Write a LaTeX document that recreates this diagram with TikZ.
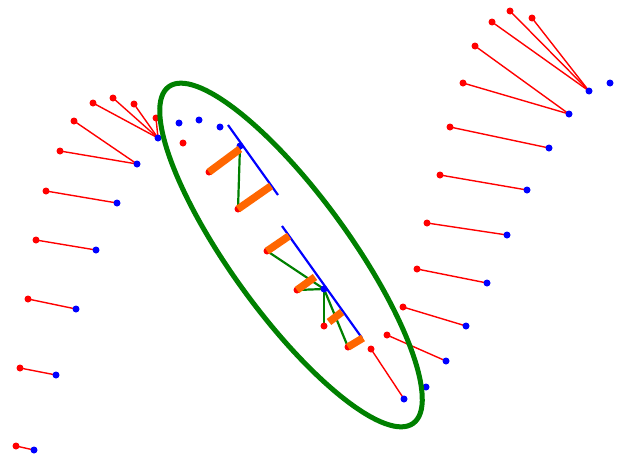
\documentclass[tikz,border=0pt]{standalone}
\begin{document}
\begin{tikzpicture}[x=1pt,y=-1pt]
    % Define colours
    \definecolor{pairRed}{HTML}{FF0000}
    \definecolor{pairBlue}{HTML}{0000FF}
    \definecolor{fitGreen}{HTML}{008000}
    \definecolor{projOrange}{HTML}{FF6600}

    % Fix the canvas size
    \useasboundingbox (0,0) rectangle (626,453);

    % Define the red points
    \foreach \n/\x/\y in {1/16/446, 2/20/368, 3/28/299, 4/36/240, 5/46/191,
        6/60/151, 7/74/121, 8/93/103, 9/113/98, 10/134/104, 11/156/118,
        12/510/11, 13/532/18, 14/492/22, 15/475/46, 16/463/83, 17/450/127,
        18/440/175, 19/427/223, 20/417/269, 21/403/307, 22/387/335, 23/371/349,
        24/183/143, 25/209/172, 26/238/209, 27/267/251, 28/297/290,
        29/324/326, 30/348/347}
        \coordinate (r\n) at (\x,\y);

    % Define the blue points
    \foreach \n/\x/\y in {1/34/450, 2/56/375, 3/76/309, 4/96/250, 5/117/203,
        6/137/164, 7/158/138, 8/589/91, 9/569/114, 10/549/148, 11/527/190,
        12/507/235, 13/487/283, 14/466/326, 15/446/361, 16/404/399,
        17/610/83, 18/179/123, 19/199/120, 20/220/127, 21/426/387,
        22/240/146, 23/324/289}
        \coordinate (b\n) at (\x,\y);

    % Define the ends of the fitted lines
    \coordinate (L1a) at (228,125);
    \coordinate (L1b) at (278,195);
    \coordinate (L2a) at (282,226);
    \coordinate (L2b) at (362,338);

    % Define the ends of the orange bars
    \coordinate (o1) at (240,149);
    \coordinate (o2) at (271,186);
    \coordinate (o3) at (289,236);
    \coordinate (o4) at (315,277);
    \coordinate (o5s) at (329,322);
    \coordinate (o5) at (342,312);
    \coordinate (o6) at (363,338);

    % Draw the red pairings
    \foreach \a/\b in {1/1, 2/2, 3/3, 4/4, 5/5, 6/6, 7/6, 8/7, 9/7, 10/7, 11/7,
        12/8, 13/8, 14/8, 15/9, 16/9, 17/10, 18/11, 19/12, 20/13, 21/14,
        22/15, 23/16}
        \draw[pairRed, line width=1.4pt] (r\a) -- (b\b);

    % Draw the fitted lines
    \draw[pairBlue, line width=2.2pt] (L1a) -- (L1b);
    \draw[pairBlue, line width=2.2pt] (L2a) -- (L2b);

    % Draw the green links
    \draw[fitGreen, line width=2.2pt] (b22) -- (r26);
    \foreach \a in {27,...,30}
        \draw[fitGreen, line width=2.2pt] (r\a) -- (b23);

    % Draw the points
    \foreach \n in {1,...,30}
        \fill[pairRed] (r\n) circle (3.5pt);
    \foreach \n in {1,...,23}
        \fill[pairBlue] (b\n) circle (3.5pt);

    % Draw the orange bars
    \draw[projOrange, line width=7.5pt] (r25) -- (o1);
    \draw[projOrange, line width=7.5pt] (r26) -- (o2);
    \draw[projOrange, line width=7.5pt] (r27) -- (o3);
    \draw[projOrange, line width=7.5pt] (r28) -- (o4);
    \draw[projOrange, line width=7.5pt] (o5s) -- (o5);
    \draw[projOrange, line width=7.5pt] (r30) -- (o6);

    % Draw the ellipse
    \draw[fitGreen, line width=5pt] (291,255) ellipse [x radius=208pt, y radius=59pt, rotate=-54];

\end{tikzpicture}
\end{document}
